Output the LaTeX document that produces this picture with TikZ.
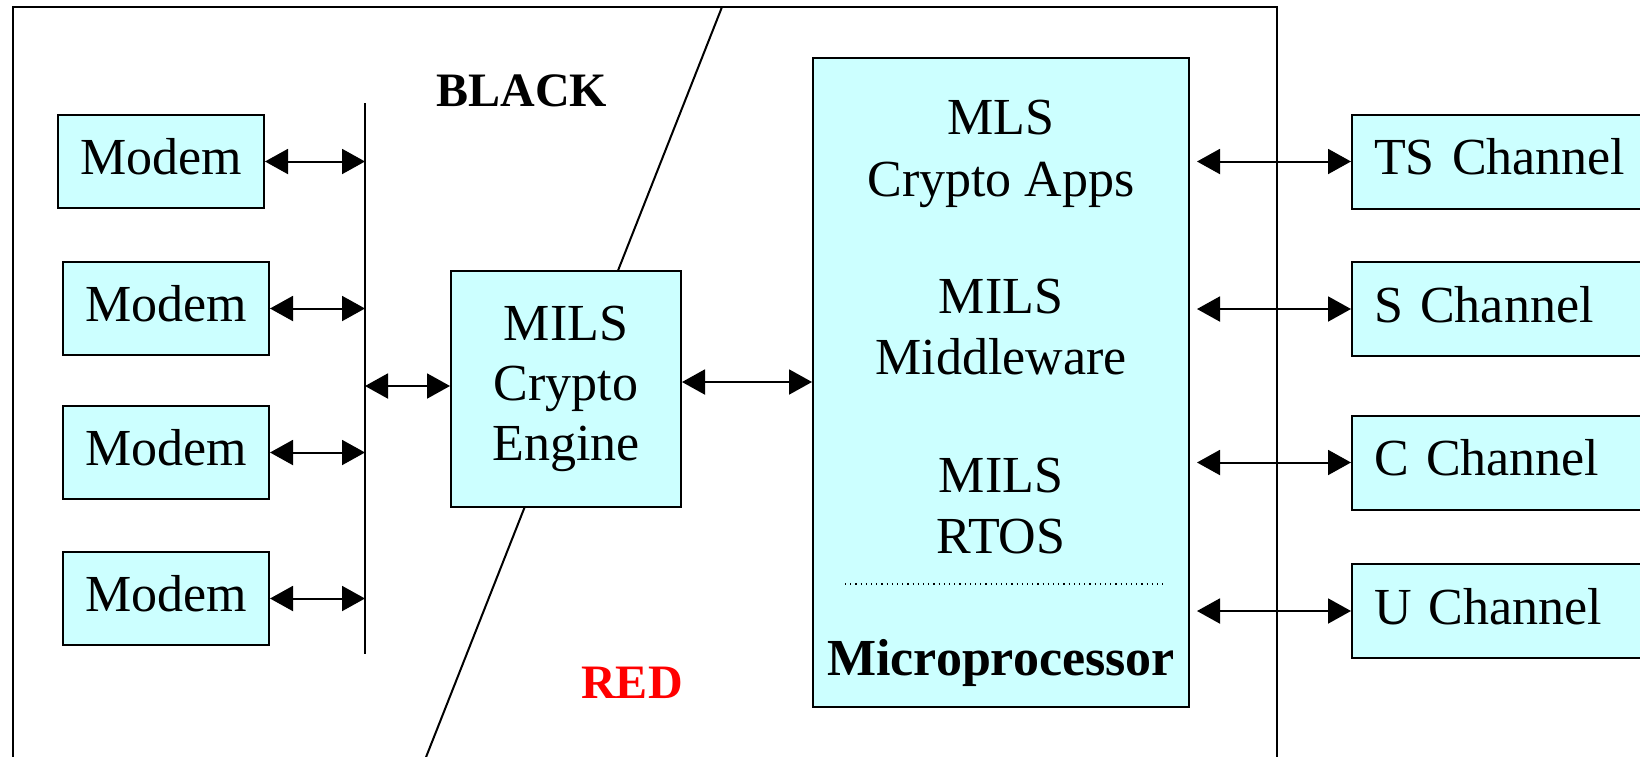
\documentclass[tikz,border=0pt]{standalone}
\usepackage{fontspec}
\setmainfont{Liberation Serif}
\usetikzlibrary{arrows.meta,positioning}

\definecolor{boxcyan}{RGB}{204,255,255}

\begin{document}
\begin{tikzpicture}[x=0.5pt, y=-0.5pt, line width=1pt, node distance=26pt,
                    >={Triangle[length=11.5pt,width=12.5pt]},
                    box/.style={draw,fill=boxcyan,inner sep=0pt,font=\fontsize{26}{30}\selectfont},
                    modem/.style={box,minimum width=103pt,minimum height=46.5pt,text depth=5pt},
                    chan/.style={box,minimum height=47pt,text depth=5pt,inner xsep=11pt,text width=128pt,align=left},
                    txt/.style={font=\fontsize{26}{30}\selectfont,anchor=base},
                    zone/.style={font=\fontsize{24}{28}\selectfont\bfseries}]
    \useasboundingbox (0,0) rectangle (1640,756);
    \clip (0,0) rectangle (1640,756);

    % outer frame and the black/red boundary
    \draw (13,780) |- (1277,7) -- (1277,780);
    \draw (722,7) -- (417,780);
    \node[zone] (black) at (522,91) {BLACK};
    \node[zone,text=red] (red) at (632,683) {RED};

    % modems on the black side
    \node[modem] (m1) at (161,161.5) {Modem};
    \node[modem] (m2) [below=of m1,xshift=2.5pt] {Modem};
    \node[modem] (m3) [below=24.5pt of m2] {Modem};
    \node[modem] (m4) [below=25.5pt of m3] {Modem};

    \coordinate (bustop) at (365,103);
    \coordinate (busbot) at (365,654);
    \draw (bustop) -- (busbot);

    \node[box,minimum width=115pt,minimum height=118pt,align=center] (engine) at (566,389)
        {MILS\\Crypto\\Engine};

    % microprocessor with its software layers
    \node[box,minimum width=188pt,minimum height=324.5pt] (cpu) at (1001,382.5) {};
    \node[txt] (mls) at (1001,134) {MLS};
    \node[txt] (apps) at (1001,196) {Crypto Apps};
    \node[txt] (mils1) at (1001,313) {MILS};
    \node[txt] (mw) at (1001,374) {Middleware};
    \node[txt] (mils2) at (1001,492) {MILS};
    \node[txt] (rtos) at (1001,553) {RTOS};
    \draw[line width=0.6pt,dotted] (845,584) -- (1167,584);
    \node[txt,font=\fontsize{26}{30}\selectfont\bfseries] (mp) at (1001,675) {Microprocessor};

    % channels on the red side
    \node[chan,anchor=west] (ch1) at (1351,161.5) {TS Channel};
    \node[chan,text width=123pt] (ch2) [below=25.75pt of ch1.south west,anchor=north west] {S Channel};
    \node[chan] (ch3) [below=28.75pt of ch2.south west,anchor=north west] {C Channel};
    \node[chan] (ch4) [below=26.25pt of ch3.south west,anchor=north west] {U Channel};
    \coordinate (rbus) at (1197,0);

    \path[<->]
    (m1) edge (m1 -| bustop)
    (m2) edge (m2 -| bustop)
    (m3) edge (m3 -| bustop)
    (m4) edge (m4 -| bustop)
    ([yshift=1.5pt]engine.west) edge ([yshift=1.5pt]engine.west -| bustop)
    ([yshift=3.5pt]engine.east) edge ([yshift=3.5pt]engine.east -| cpu.west)
    (rbus |- ch1.west) edge (ch1.west)
    (rbus |- ch2.west) edge (ch2.west)
    (rbus |- ch3.west) edge (ch3.west)
    (rbus |- ch4.west) edge (ch4.west);
\end{tikzpicture}
\end{document}
